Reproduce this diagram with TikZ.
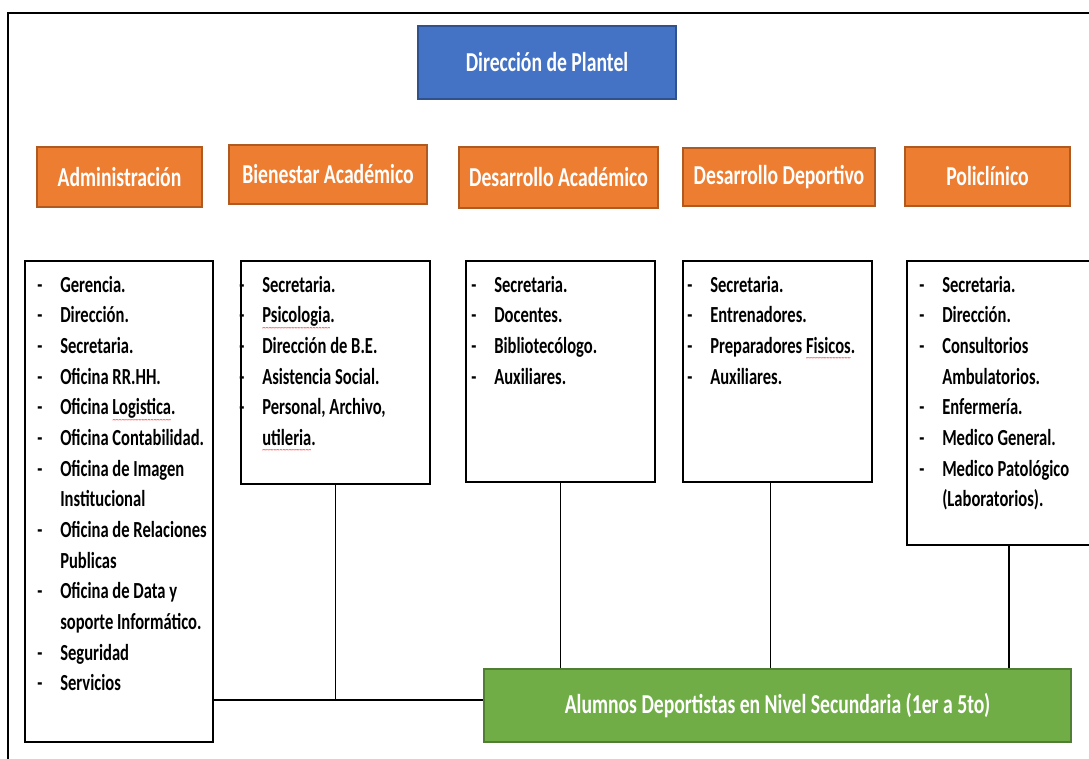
\documentclass[tikz,border=0pt]{standalone}
\usepackage{fontspec}
\setmainfont{Carlito}[FakeStretch=0.72]
\usetikzlibrary{fit}
\definecolor{hblue}{HTML}{4472C4}
\definecolor{hbluedk}{HTML}{2F528F}
\definecolor{horange}{HTML}{ED7D31}
\definecolor{horangedk}{HTML}{AE5A21}
\definecolor{hgreen}{HTML}{70AD47}
\definecolor{hgreendk}{HTML}{507E32}
\newcommand\sperr[1]{\setbox0\hbox{#1}\rlap{\raisebox{-5.5pt}[0pt][0pt]{\hbox to\wd0{\color{red}\mdseries\fontsize{6pt}{6pt}\selectfont\xleaders\hbox{\char"7E}\hfill}}}\box0}
\newcommand\itemd[1]{\makebox[17.25pt][l]{-}#1}
\newcommand\itemc[1]{\hspace*{17.25pt}#1}
\tikzset{
  sz/.style 2 args={minimum width=#1*0.75pt, minimum height=#2*0.75pt},
  headbox/.style={draw=horangedk, line width=0.8pt, fill=horange, inner sep=0pt, text=white,
    font=\fontsize{20.5pt}{24pt}\selectfont\bfseries, anchor=center},
  topbox/.style={headbox, draw=hbluedk, fill=hblue},
  stubox/.style={headbox, draw=hgreendk, fill=hgreen},
  listbox/.style={draw=black, line width=1.5pt, inner sep=0pt},
  listtext/.style={inner sep=0pt, anchor=base west, align=left,
    font=\fontsize{17.25pt}{23pt}\selectfont\bfseries},
  conn/.style={draw=black, line width=1.2pt},
  connh/.style={draw=black, line width=1.6pt},
}
\begin{document}
\begin{tikzpicture}[x=0.75pt,y=-0.75pt]
\clip (0,0) rectangle (1089,758);
\fill[white] (0,0) rectangle (1089,758);
% frame (cut off at right and bottom)
\draw[line width=1.5pt] (8,13) rectangle (1130,800);

% top
\node[topbox, sz={258}{73}] (dir) at (547,62.5) {Dirección de Plantel};

% headings
\node[headbox, sz={165}{60}] (hadm) at (119.5,177) {Administración};
\node[headbox, sz={198}{59}] (hbien) at (328,174.5) {Bienestar Académico};
\node[headbox, sz={199}{61}] (hda) at (558.5,177.5) {Desarrollo Académico};
\node[headbox, sz={192}{58}] (hdd) at (779,177) {Desarrollo Deportivo};
\node[headbox, sz={165}{59}] (hpol) at (987.5,176.5) {Policlínico};

% list boxes
\node[listbox, fit={(25,261) (213,742)}] (ladm) {};
\node[listbox, fit={(241,261) (430,484)}] (lbien) {};
\node[listbox, fit={(466,261) (655,482)}] (lda) {};
\node[listbox, fit={(683,261) (872,482)}] (ldd) {};
\node[listbox, fit={(907,261) (1111,545)}] (lpol) {};

% list texts
\node[listtext] (tadm) at (37,292) {\begin{tabular}[t]{@{}l@{}}
\itemd{Gerencia.}\\
\itemd{Dirección.}\\
\itemd{Secretaria.}\\
\itemd{Oficina RR.HH.}\\
\itemd{Oficina \sperr{Logistica}.}\\
\itemd{Oficina Contabilidad.}\\
\itemd{Oficina de Imagen}\\
\itemc{Institucional}\\
\itemd{Oficina de Relaciones}\\
\itemc{Publicas}\\
\itemd{Oficina de Data y}\\
\itemc{soporte Informático.}\\
\itemd{Seguridad}\\
\itemd{Servicios}
\end{tabular}};

\node[listtext] (tbien) at (239,292) {\begin{tabular}[t]{@{}l@{}}
\itemd{Secretaria.}\\
\itemd{\sperr{Psicologia}.}\\
\itemd{Dirección de B.E.}\\
\itemd{Asistencia Social.}\\
\itemd{Personal, Archivo,}\\
\itemc{\sperr{utileria}.}
\end{tabular}};

\node[listtext] (tda) at (471,292) {\begin{tabular}[t]{@{}l@{}}
\itemd{Secretaria.}\\
\itemd{Docentes.}\\
\itemd{Bibliotecólogo.}\\
\itemd{Auxiliares.}
\end{tabular}};

\node[listtext] (tdd) at (687,292) {\begin{tabular}[t]{@{}l@{}}
\itemd{Secretaria.}\\
\itemd{Entrenadores.}\\
\itemd{Preparadores \sperr{Fisicos}.}\\
\itemd{Auxiliares.}
\end{tabular}};

\node[listtext] (tpol) at (919,292) {\begin{tabular}[t]{@{}l@{}}
\itemd{Secretaria.}\\
\itemd{Dirección.}\\
\itemd{Consultorios}\\
\itemc{Ambulatorios.}\\
\itemd{Enfermería.}\\
\itemd{Medico General.}\\
\itemd{Medico Patológico}\\
\itemc{(Laboratorios).}
\end{tabular}};

% students
\node[stubox, sz={587}{73}] (stu) at (777.5,705.5) {Alumnos Deportistas en Nivel Secundaria (1er a 5to)};

% connectors
\coordinate (j) at (336,700);
\draw[connh] (ladm.east |- j) -- (stu.west |- j);
\draw[conn] (lbien.south) -- (lbien.south |- j);
\draw[conn] (lda.south) -- (lda.south |- stu.north);
\draw[conn] ([xshift=-5.25pt]ldd.south) -- ([xshift=-5.25pt]ldd.south |- stu.north);
\draw[conn] (lpol.south) -- (lpol.south |- stu.north);
\end{tikzpicture}
\end{document}
